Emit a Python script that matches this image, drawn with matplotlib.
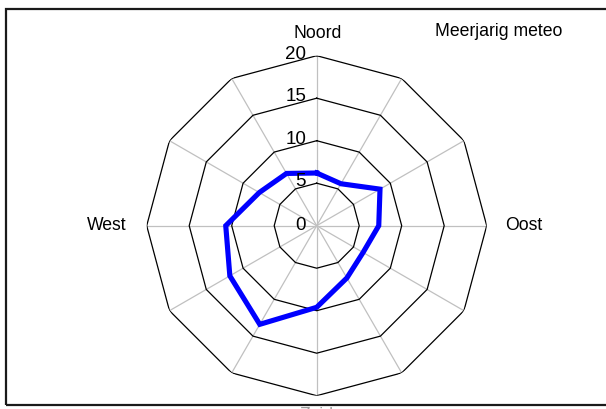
import numpy as np
import matplotlib
matplotlib.use("Agg")
import matplotlib.pyplot as plt
from matplotlib.patches import Rectangle
from matplotlib.transforms import ScaledTranslation

plt.rcParams["font.family"] = ["Liberation Sans", "DejaVu Sans"]

# 12 wind sectors, clockwise from north
sector_deg = [0, 30, 60, 90, 120, 150, 180, 210, 240, 270, 300, 330]
frequency = [6.2, 5.7, 8.6, 7.3, 6.3, 7.1, 9.6, 13.4, 11.8, 10.7, 7.8, 7.1]
ring_values = [5, 10, 15, 20]
tick_labels = ["0", "5", "10", "15", "20"]
series_name = "Meerjarig meteo"

W, H = 606, 410
fig = plt.figure(figsize=(W / 100, H / 100), dpi=100)

# outer frame of the chart area
fig.add_artist(Rectangle((6 / W, 1 - 406 / H), 620 / W, 396 / H,
                         transform=fig.transFigure, fill=False,
                         edgecolor="#1a1a1a", linewidth=1.6))

cx, cy, rad = 316.7, H - 226.7, 170
ax = fig.add_axes([(cx - rad) / W, (cy - rad) / H, 2 * rad / W, 2 * rad / H],
                  projection="polar")
ax.set_theta_zero_location("N")
ax.set_theta_direction(-1)
ax.set_ylim(0, 20)
ax.grid(False)
ax.set_xticks([])
ax.set_yticks([])
ax.spines["polar"].set_visible(False)
ax.patch.set_visible(False)

theta = np.deg2rad(sector_deg)
closed = np.append(theta, theta[0])

for t in theta:
    ax.plot([t, t], [0, 20], color="#c0c0c0", linewidth=0.9, zorder=1)
for r in ring_values:
    ax.plot(closed, [r] * len(closed), color="black", linewidth=0.9, zorder=2)

ax.plot(closed, frequency + frequency[:1], color="#0000ff", linewidth=3.7,
        solid_joinstyle="miter", zorder=3)

for i, lab in enumerate(tick_labels):
    shift = ScaledTranslation(-0.105, 0.025 if i else 0.01, fig.dpi_scale_trans)
    ax.text(0, i * 5, lab, fontsize=13.5, ha="right", va="center",
            transform=ax.transData + shift, zorder=4)

fs = 12.7
fig.text(318 / W, 1 - 34 / H, "Noord", fontsize=fs, ha="center", va="center")
fig.text(524 / W, 1 - 226 / H, "Oost", fontsize=fs, ha="center", va="center")
fig.text(107 / W, 1 - 226 / H, "West", fontsize=fs, ha="center", va="center")
fig.text(317 / W, 1 - 407 / H, "Zuid", fontsize=fs, ha="center", va="top",
         color="#999999")
fig.text(435 / W, 1 - 32 / H, series_name, fontsize=fs, ha="left", va="center")

fig.savefig("out.png", dpi=100)
